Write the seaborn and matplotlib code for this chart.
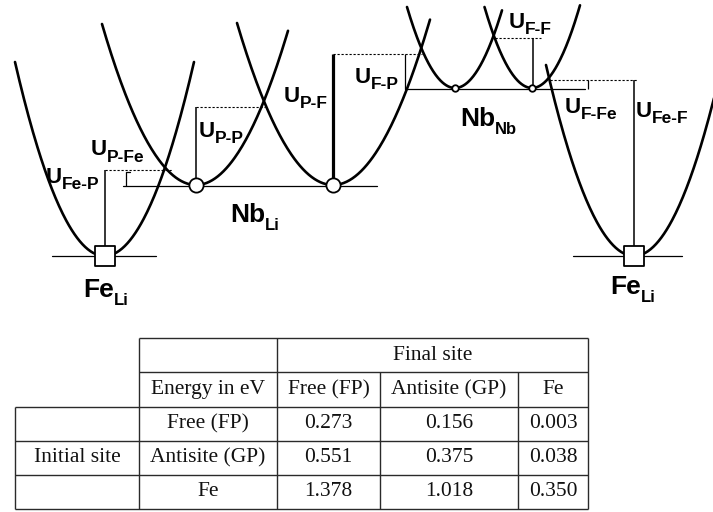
import numpy as np
import pandas as pd
import matplotlib
matplotlib.use("Agg")
import matplotlib.pyplot as plt
import seaborn as sns

# ---------------- data ----------------
# parabolic potential wells (schematic): vertex position, half width of arms, rise of arms
well_names = ["Fe_Li_left", "Nb_Li_1", "Nb_Li_2", "Nb_Nb_1", "Nb_Nb_2", "Fe_Li_right"]
well_vx = [104.5, 196, 333, 455, 532, 634]
well_vy = [256, 185, 185, 88, 88, 256]
well_halfwidth = [89.5, 94, 96, 48, 47.5, 88]
well_rise = [194, 161, 162, 81, 81, 191]
well_right_extent = [89.5, 92, 97, 47, 48, 90]
well_marker = ["s", "o", "o", "o", "o", "s"]
well_marker_size = [190, 105, 105, 22, 22, 190]

# table values
row_labels = ["Free (FP)", "Antisite (GP)", "Fe"]
col_labels = ["Free (FP)", "Antisite (GP)", "Fe"]
energy_free = [0.273, 0.156, 0.003]
energy_antisite = [0.551, 0.375, 0.038]
energy_fe = [1.378, 1.018, 0.350]
energies = [energy_free, energy_antisite, energy_fe]

# ---------------- figure ----------------
sns.set_theme(style="white")
plt.rcParams["font.family"] = ["Liberation Sans", "DejaVu Sans"]
fig = plt.figure(figsize=(7.13, 5.12), dpi=100)
ax = fig.add_axes([0, 0, 1, 1])
ax.set_xlim(0, 713)
ax.set_ylim(512, 0)
ax.axis("off")

# parabolas
for vx, vy, hw, rise, rext in zip(well_vx, well_vy, well_halfwidth, well_rise, well_right_extent):
    xs = np.linspace(vx - hw, vx + rext, 200)
    ys = vy - rise * ((xs - vx) / hw) ** 2
    df = pd.DataFrame({"x": xs, "y": ys})
    sns.lineplot(data=df, x="x", y="y", ax=ax, color="black", lw=1.9, sort=False, estimator=None)

# base lines of wells
base_lines = [((52, 156), 256), ((123, 377), 185.5), ((405, 585), 88.5), ((573, 682), 256)]
for (x0, x1), y in base_lines:
    ax.plot([x0, x1], [y, y], color="black", lw=0.9, zorder=2)

# barrier markers (vertical) and dotted levels
def vline(x, y0, y1, lw=1.1):
    ax.plot([x, x], [y0, y1], color="black", lw=lw, zorder=2, solid_capstyle="butt")

def dotted(x0, x1, y):
    ax.plot([x0, x1], [y, y], color="black", lw=0.8, ls=(0, (2, 1.6)), zorder=2)

vline(104.5, 170, 247); dotted(104.5, 172, 170)
vline(126, 172, 185.5, lw=0.9); ax.plot([126, 130], [172, 172], color="black", lw=0.9)
vline(196, 107, 178); dotted(196, 265, 107)
vline(333, 54, 178, lw=2.3); dotted(333, 422, 54)
vline(405, 54, 88.5, lw=0.9)
vline(533, 38, 85.5); dotted(495, 541, 38)
vline(588, 80, 88.5, lw=0.9); dotted(550, 637, 80)
vline(634, 80, 247)

# well minima markers
for vx, vy, m, s in zip(well_vx, well_vy, well_marker, well_marker_size):
    ax.scatter([vx], [vy], marker=m, s=s, facecolor="white", edgecolor="black",
               linewidths=1.3, zorder=5)

# labels with subscripts
labels = [
    (46, 183, "U", "Fe-P", 16, 12.5, 6),
    (91, 155, "U", "P-Fe", 16, 12.5, 7),
    (199, 137, "U", "P-P", 16, 12.5, 6),
    (284, 102, "U", "P-F", 16, 12.5, 6),
    (355, 83, "U", "F-P", 16, 12.5, 6),
    (509, 28, "U", "F-F", 16, 12.5, 6),
    (565, 113, "U", "F-Fe", 16, 12.5, 6),
    (636, 117, "U", "Fe-F", 16, 12.5, 6),
    (230, 222, "Nb", "Li", 19, 12, 8),
    (460, 126, "Nb", "Nb", 19, 12, 8),
    (83, 297, "Fe", "Li", 19, 12, 8),
    (610, 294, "Fe", "Li", 19, 12, 8),
]
mains = []
for x, y, main, sub, s1, s2, drop in labels:
    t = ax.text(x, y, main, fontsize=s1, fontweight="bold", ha="left", va="baseline", color="black")
    mains.append(t)
fig.canvas.draw()
renderer = fig.canvas.get_renderer()
inv = ax.transData.inverted()
for t, (x, y, main, sub, s1, s2, drop) in zip(mains, labels):
    bb = t.get_window_extent(renderer)
    xr = inv.transform((bb.x1, bb.y0))[0]
    ax.text(xr, y + drop, sub, fontsize=s2, fontweight="bold", ha="left", va="baseline", color="black")

# ---------------- table ----------------
row_y = [338, 372, 407, 441, 475, 509]
col_x = [15, 139, 277, 380, 518, 588]
tc = "#2a2a2a"
tlw = 1.0
def hl(y, x0, x1):
    ax.plot([x0, x1], [y, y], color=tc, lw=tlw, solid_capstyle="butt")
def vl(x, y0, y1):
    ax.plot([x, x], [y0, y1], color=tc, lw=tlw, solid_capstyle="butt")

hl(row_y[0], col_x[1], col_x[5])
hl(row_y[1], col_x[1], col_x[5])
for y in row_y[2:]:
    hl(y, col_x[0], col_x[5])
vl(col_x[0], row_y[2], row_y[5])
vl(col_x[1], row_y[0], row_y[5])
vl(col_x[2], row_y[0], row_y[5])
vl(col_x[3], row_y[1], row_y[5])
vl(col_x[4], row_y[1], row_y[5])
vl(col_x[5], row_y[0], row_y[5])

serif = ["Liberation Serif", "DejaVu Serif"]
tfs = 15.5
def ctext(x, y, s):
    ax.text(x, y, s, fontsize=tfs, family=serif, ha="center", va="center", color="#111111")

ycen = [(row_y[i] + row_y[i + 1]) / 2 for i in range(5)]
xcen = [(col_x[i] + col_x[i + 1]) / 2 for i in range(5)]
ctext((col_x[2] + col_x[5]) / 2, ycen[0], "Final site")
ctext(xcen[1], ycen[1], "Energy in eV")
for j, c in enumerate(col_labels):
    ctext(xcen[2 + j], ycen[1], c)
ctext(xcen[0], ycen[3], "Initial site")
for i, r in enumerate(row_labels):
    ctext(xcen[1], ycen[2 + i], r)
    for j in range(3):
        ctext(xcen[2 + j], ycen[2 + i], f"{energies[i][j]:.3f}")

fig.savefig("out.png", dpi=100)
